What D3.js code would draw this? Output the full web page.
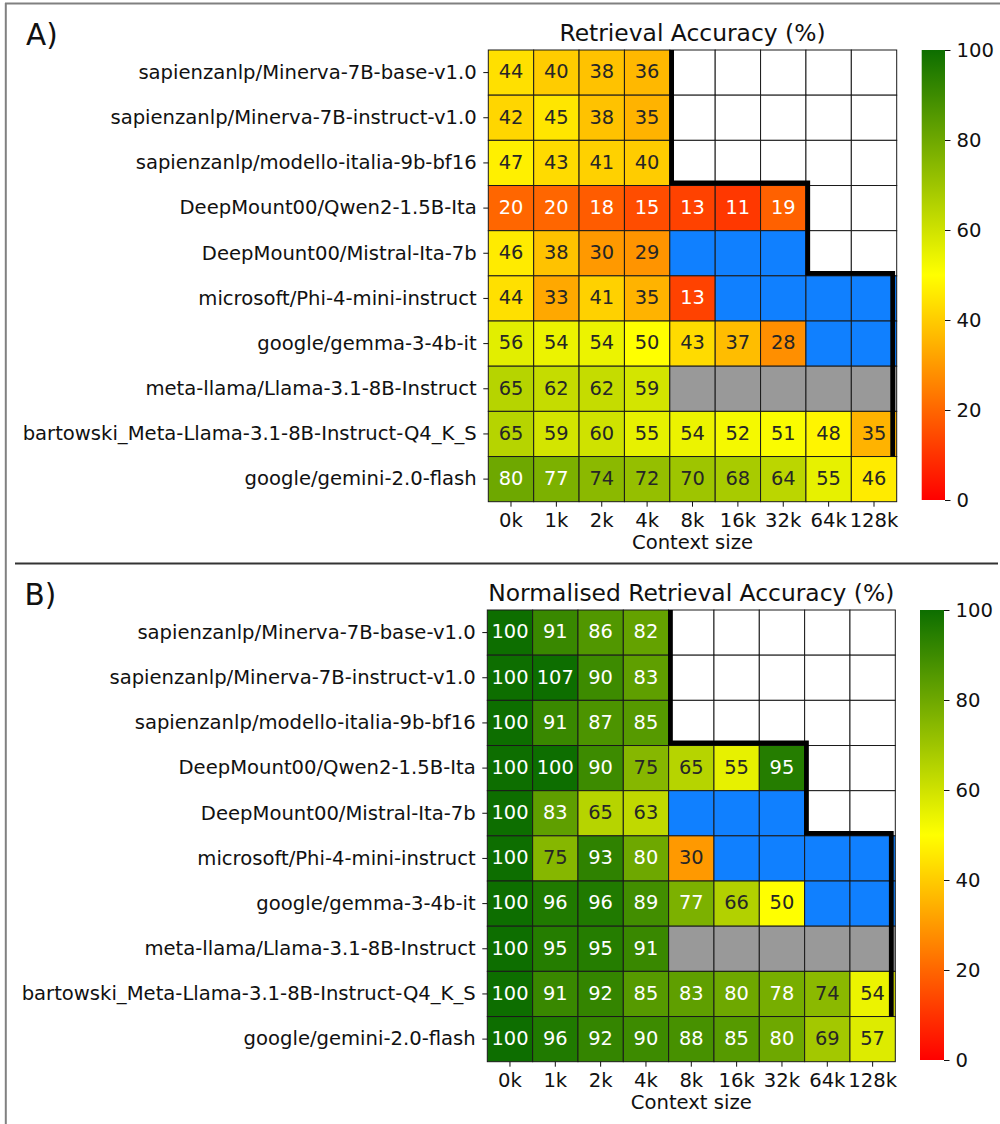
<!DOCTYPE html>
<html>
<head>
<meta charset="utf-8">
<script src="https://cdn.jsdelivr.net/npm/d3@7"></script>
<style>
  body { margin: 0; background: #fff; }
  text { font-family: "DejaVu Sans", sans-serif; }
</style>
</head>
<body>
<svg id="fig" width="1000" height="1124"></svg>
<script>
var models = [
  'sapienzanlp/Minerva-7B-base-v1.0',
  'sapienzanlp/Minerva-7B-instruct-v1.0',
  'sapienzanlp/modello-italia-9b-bf16',
  'DeepMount00/Qwen2-1.5B-Ita',
  'DeepMount00/Mistral-Ita-7b',
  'microsoft/Phi-4-mini-instruct',
  'google/gemma-3-4b-it',
  'meta-llama/Llama-3.1-8B-Instruct',
  'bartowski_Meta-Llama-3.1-8B-Instruct-Q4_K_S',
  'google/gemini-2.0-flash'
];
var contexts = ['0k', '1k', '2k', '4k', '8k', '16k', '32k', '64k', '128k'];

// null = outside the model's context window, F = failed run (blue), S = not run (gray)
var F = 'fail', S = 'skip';

var accuracy = [
  [44, 40, 38, 36, null, null, null, null, null],
  [42, 45, 38, 35, null, null, null, null, null],
  [47, 43, 41, 40, null, null, null, null, null],
  [20, 20, 18, 15, 13, 11, 19, null, null],
  [46, 38, 30, 29, F, F, F, null, null],
  [44, 33, 41, 35, 13, F, F, F, F],
  [56, 54, 54, 50, 43, 37, 28, F, F],
  [65, 62, 62, 59, S, S, S, S, S],
  [65, 59, 60, 55, 54, 52, 51, 48, 35],
  [80, 77, 74, 72, 70, 68, 64, 55, 46]
];

var normalised = [
  [100, 91, 86, 82, null, null, null, null, null],
  [100, 107, 90, 83, null, null, null, null, null],
  [100, 91, 87, 85, null, null, null, null, null],
  [100, 100, 90, 75, 65, 55, 95, null, null],
  [100, 83, 65, 63, F, F, F, null, null],
  [100, 75, 93, 80, 30, F, F, F, F],
  [100, 96, 96, 89, 77, 66, 50, F, F],
  [100, 95, 95, 91, S, S, S, S, S],
  [100, 91, 92, 85, 83, 80, 78, 74, 54],
  [100, 96, 92, 90, 88, 85, 80, 69, 57]
];

// number of context columns inside each model's window (null = no limit drawn)
var ctxLimit = [4, 4, 4, 7, 7, 9, 9, 9, 9, null];
var cbarTicks = [0, 20, 40, 60, 80, 100];

var svg = d3.select('#fig');

var color = d3.scaleLinear()
  .domain([0, 50, 100])
  .range(['#ff0000', '#ffff00', '#0d6e00'])
  .clamp(true);

function luminance(c) {
  var rgb = d3.rgb(c);
  var f = function(v) {
    v = v / 255;
    return v <= 0.03928 ? v / 12.92 : Math.pow((v + 0.055) / 1.055, 2.4);
  };
  return 0.2126 * f(rgb.r) + 0.7152 * f(rgb.g) + 0.0722 * f(rgb.b);
}

// frame round the figure and divider between panels
svg.append('line').attr('x1', 5).attr('x2', 1000).attr('y1', 3.5).attr('y2', 3.5)
  .attr('stroke', '#808080').attr('stroke-width', 2);
svg.append('line').attr('x1', 5.8).attr('x2', 5.8).attr('y1', 3).attr('y2', 1124)
  .attr('stroke', '#808080').attr('stroke-width', 2);
svg.append('line').attr('x1', 15).attr('x2', 998).attr('y1', 563.5).attr('y2', 563.5)
  .attr('stroke', '#333').attr('stroke-width', 1.8);

var grad = svg.append('defs').append('linearGradient')
  .attr('id', 'cmap').attr('x1', 0).attr('x2', 0).attr('y1', 1).attr('y2', 0);
d3.range(0, 101, 5).forEach(function(v) {
  grad.append('stop').attr('offset', v + '%').attr('stop-color', color(v));
});

function drawPanel(p) {
  var x = d3.scaleBand().domain(d3.range(contexts.length)).range([p.left, p.right]);
  var y = d3.scaleBand().domain(d3.range(models.length)).range([p.top, p.bottom]);

  var cells = [];
  p.values.forEach(function(row, i) {
    row.forEach(function(v, j) { cells.push({row: i, col: j, v: v}); });
  });

  function fillOf(d) {
    if (d.v === null) return '#ffffff';
    if (d.v === F) return '#1080ff';
    if (d.v === S) return '#999999';
    return color(d.v);
  }

  var g = svg.append('g');

  g.selectAll('rect.cell')
    .data(cells)
    .enter()
    .append('rect')
    .attr('class', 'cell')
    .attr('x', function(d) { return x(d.col); })
    .attr('y', function(d) { return y(d.row); })
    .attr('width', x.bandwidth())
    .attr('height', y.bandwidth())
    .attr('fill', fillOf)
    .attr('stroke', '#1a1a1a')
    .attr('stroke-width', 1);

  g.selectAll('text.annot')
    .data(cells.filter(function(d) { return typeof d.v === 'number'; }))
    .enter()
    .append('text')
    .attr('class', 'annot')
    .attr('x', function(d) { return x(d.col) + x.bandwidth() / 2; })
    .attr('y', function(d) { return y(d.row) + y.bandwidth() / 2; })
    .attr('dy', '0.3em')
    .attr('text-anchor', 'middle')
    .attr('font-size', 19.4)
    .attr('fill', function(d) { return luminance(color(d.v)) > 0.37 ? '#262626' : '#ffffff'; })
    .text(function(d) { return d.v; });

  // context window boundary
  var pts = [];
  var xEdge = function(c) { return x(0) + c * x.bandwidth() + (c === contexts.length ? -4 : 1.8); };
  var yEdge = function(r) { return y(0) + r * y.bandwidth() - 2.5; };
  pts.push([xEdge(ctxLimit[0]), y(0)]);
  for (var i = 0; i < ctxLimit.length - 1; i++) {
    if (ctxLimit[i + 1] === null) {
      pts.push([xEdge(ctxLimit[i]), y(0) + (i + 1) * y.bandwidth()]);
      break;
    }
    if (ctxLimit[i + 1] !== ctxLimit[i]) {
      pts.push([xEdge(ctxLimit[i]), yEdge(i + 1)]);
      pts.push([xEdge(ctxLimit[i + 1]), yEdge(i + 1)]);
    }
  }
  g.append('path')
    .attr('d', d3.line()(pts))
    .attr('fill', 'none')
    .attr('stroke', '#000')
    .attr('stroke-width', 4.8)
    .attr('stroke-linejoin', 'miter');

  // y axis
  var yAxis = g.append('g')
    .attr('transform', 'translate(' + p.left + ',0)')
    .call(d3.axisLeft(y).tickSize(5).tickPadding(6.6).tickFormat(function(i) { return models[i]; }));
  yAxis.select('.domain').remove();
  yAxis.selectAll('text').attr('font-size', 19.6).attr('fill', '#111')
    .attr('font-family', '"DejaVu Sans", sans-serif');
  yAxis.selectAll('line').attr('stroke', '#111');

  // x axis
  var xAxis = g.append('g')
    .attr('transform', 'translate(0,' + p.bottom + ')')
    .call(d3.axisBottom(x).tickSize(5).tickPadding(6.2).tickFormat(function(i) { return contexts[i]; }));
  xAxis.select('.domain').remove();
  xAxis.selectAll('text').attr('font-size', 19.6).attr('fill', '#111')
    .attr('font-family', '"DejaVu Sans", sans-serif');
  xAxis.selectAll('line').attr('stroke', '#111');

  g.append('text')
    .attr('x', (p.left + p.right) / 2)
    .attr('y', p.bottom + 47.6)
    .attr('text-anchor', 'middle')
    .attr('font-size', 19.6)
    .attr('fill', '#111')
    .text('Context size');

  g.append('text')
    .attr('x', (p.left + p.right) / 2)
    .attr('y', p.top - 9.3)
    .attr('text-anchor', 'middle')
    .attr('font-size', 23.4)
    .attr('fill', '#111')
    .text(p.title);

  g.append('text')
    .attr('x', p.labelX)
    .attr('y', p.top - 5)
    .attr('font-size', 29.5)
    .attr('fill', '#111')
    .text(p.label);

  // colour bar
  var c = d3.scaleLinear().domain([0, 100]).range([p.cbarBottom, p.top]);
  g.append('rect')
    .attr('x', p.cbarX)
    .attr('y', c(100))
    .attr('width', p.cbarW)
    .attr('height', c(0) - c(100))
    .attr('fill', 'url(#cmap)');
  var cAxis = g.append('g')
    .attr('transform', 'translate(' + (p.cbarX + p.cbarW) + ',0)')
    .call(d3.axisRight(c).tickValues(cbarTicks).tickSize(5.5).tickPadding(6));
  cAxis.select('.domain').remove();
  cAxis.selectAll('text').attr('font-size', 19.6).attr('fill', '#111')
    .attr('font-family', '"DejaVu Sans", sans-serif');
  cAxis.selectAll('line').attr('stroke', '#111');
}

drawPanel({
  values: accuracy, title: 'Retrieval Accuracy (%)', label: 'A)', labelX: 26,
  top: 50, bottom: 501.7, left: 488.3, right: 896.7,
  cbarX: 921.7, cbarW: 23.3, cbarBottom: 500
});

drawPanel({
  values: normalised, title: 'Normalised Retrieval Accuracy (%)', label: 'B)', labelX: 24.5,
  top: 610, bottom: 1061.7, left: 487.3, right: 895.3,
  cbarX: 920, cbarW: 24, cbarBottom: 1060
});
</script>
</body>
</html>
